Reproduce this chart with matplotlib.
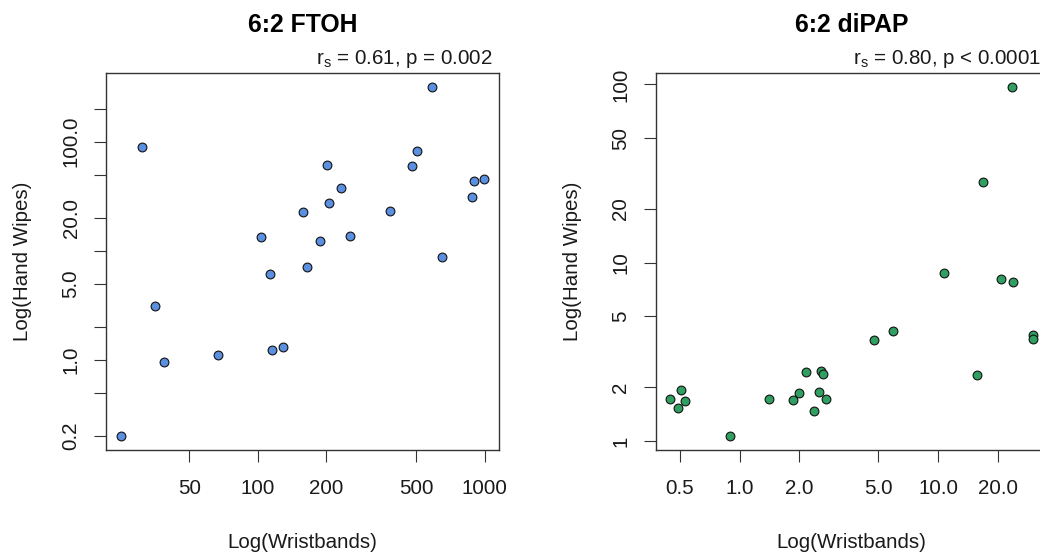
import matplotlib
matplotlib.use("Agg")
import matplotlib.pyplot as plt
import numpy as np
from matplotlib.ticker import NullLocator

plt.rcParams['font.family'] = ['Liberation Sans', 'DejaVu Sans']

# ---------------- data ----------------
titles = ["6:2 FTOH", "6:2 diPAP"]
stats_text = [r"r$_\mathregular{s}$ = 0.61, p = 0.002", r"r$_\mathregular{s}$ = 0.80, p < 0.0001"]
x_label = "Log(Wristbands)"
y_label = "Log(Hand Wipes)"

ftoh_wrist = [30.9, 584, 501, 477, 202, 232, 207, 158, 384, 898, 998, 883,
              103, 189, 256, 648, 165, 113, 35.2, 38.7, 67.1, 116, 130, 24.9]
ftoh_hand = [90.0, 318, 82.8, 59.4, 60.6, 37.6, 27.7, 22.8, 23.4, 43.3, 45.8, 31.1,
             13.4, 12.3, 13.7, 8.86, 7.08, 6.08, 3.12, 0.963, 1.11, 1.24, 1.31, 0.200]

dipap_wrist = [23.5, 16.9, 10.7, 20.7, 23.8, 4.76, 5.91, 30.1, 30.0, 15.8, 2.17, 2.57,
               2.62, 0.506, 0.447, 0.530, 0.490, 1.41, 1.98, 1.86, 2.50, 2.73, 2.38, 0.890]
dipap_hand = [96.7, 28.5, 8.80, 8.15, 7.78, 3.67, 4.13, 3.92, 3.75, 2.35, 2.43, 2.48,
              2.39, 1.94, 1.72, 1.67, 1.53, 1.72, 1.85, 1.69, 1.88, 1.72, 1.48, 1.067]

ftoh_xticks = [50, 100, 200, 500, 1000]
ftoh_xticklabels = ["50", "100", "200", "500", "1000"]
ftoh_yticks = [0.2, 0.5, 1, 2, 5, 10, 20, 50, 100, 200]
ftoh_yticklabels = ["0.2", "", "1.0", "", "5.0", "", "20.0", "", "100.0", ""]

dipap_xticks = [0.5, 1, 2, 5, 10, 20, 50]
dipap_xticklabels = ["0.5", "1.0", "2.0", "5.0", "10.0", "20.0", "50.0"]
dipap_yticks = [1, 2, 5, 10, 20, 50, 100]
dipap_yticklabels = ["1", "2", "5", "10", "20", "50", "100"]

colors = ["#5B8FE0", "#2FA062"]

# ---------------- figure ----------------
W, H = 1040, 552
fig = plt.figure(figsize=(W / 100, H / 100), dpi=100)


def ax_at(x0, x1, y0, y1):
    return fig.add_axes([x0 / W, 1 - y1 / H, (x1 - x0) / W, (y1 - y0) / H])


def r_lim(vals):
    lo, hi = np.log10(min(vals)), np.log10(max(vals))
    pad = 0.04 * (hi - lo)
    return 10 ** (lo - pad), 10 ** (hi + pad)


axes = [ax_at(106, 499, 73, 450), ax_at(655.8, 1047.5, 73, 450)]
panels = [
    (ftoh_wrist, ftoh_hand, ftoh_xticks, ftoh_xticklabels, ftoh_yticks, ftoh_yticklabels),
    (dipap_wrist, dipap_hand, dipap_xticks, dipap_xticklabels, dipap_yticks, dipap_yticklabels),
]
txt_col = "#1a1a1a"
fs = 14.8

for i, (ax, (xv, yv, xt, xtl, yt, ytl)) in enumerate(zip(axes, panels)):
    ax.scatter(xv, yv, s=40, c=colors[i], edgecolors="#111111", linewidths=0.8, zorder=3)
    ax.set_xscale("log")
    ax.set_yscale("log")
    ax.set_xticks(xt, xtl)
    ax.set_yticks(yt, ytl)
    ax.set_xlim(*r_lim(xv))
    ax.set_ylim(*r_lim(yv))
    ax.xaxis.set_minor_locator(NullLocator())
    ax.yaxis.set_minor_locator(NullLocator())
    for sp in ax.spines.values():
        sp.set_linewidth(1.0)
        sp.set_color("#333333")
    ax.tick_params(axis="both", direction="out", length=8.6, width=0.8, color="#333333",
                   labelsize=fs, labelcolor=txt_col)
    ax.tick_params(axis="x", pad=12.5)
    ax.tick_params(axis="y", pad=9.7, labelrotation=90)
    for lbl in ax.get_yticklabels():
        lbl.set_verticalalignment("center")
    ax.set_xlabel(x_label, fontsize=fs, color=txt_col, labelpad=25)
    ax.set_ylabel(y_label, fontsize=fs, color=txt_col, labelpad=21)
    ax.set_title(titles[i], fontsize=17.8, fontweight="bold", color="black", pad=29.5)
    ax.annotate(stats_text[i], xy=(1, 1), xycoords="axes fraction",
                xytext=(-5, 6.3), textcoords="offset points",
                ha="right", va="baseline", fontsize=fs, color=txt_col)

fig.savefig("out.png", dpi=100)
